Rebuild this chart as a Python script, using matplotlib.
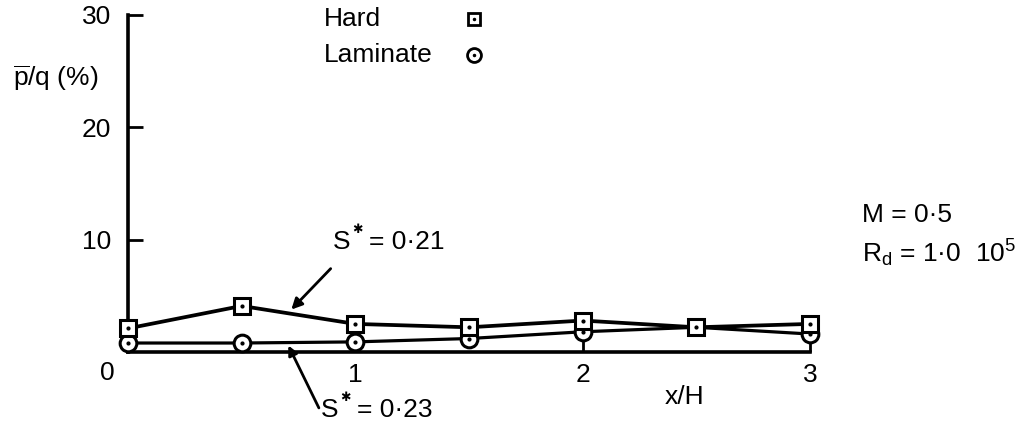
import matplotlib
matplotlib.use("Agg")
import matplotlib.pyplot as plt

# ── data ────────────────────────────────────────────────────────────
x_pos = [0, 0.5, 1.0, 1.5, 2.0, 2.5, 3.0]
hard = [2.1, 4.1, 2.5, 2.2, 2.8, 2.2, 2.5]
laminate = [0.8, 0.8, 0.9, 1.2, 1.8, 2.2, 1.6]
lam_marks = [0, 1, 2, 3, 4, 6]          # no circle drawn at x/H = 2.5
y_ticks = [10, 20, 30]
x_ticks = [1, 2, 3]

plt.rcParams["font.family"] = ["Liberation Sans", "DejaVu Sans"]
plt.rcParams["mathtext.fontset"] = "custom"
plt.rcParams["mathtext.rm"] = "Liberation Sans"
plt.rcParams["mathtext.it"] = "Liberation Sans"
FS = 19


def s_label(ax, x, y, value):
    # "S✱ = value" with a heavy raised star, as in the original figure
    t = ax.text(x, y, "S", fontsize=FS, ha="left", va="center")
    ax.annotate("✱", xy=(x, y), xytext=(14, 9), textcoords="offset points",
                fontsize=9, family="DejaVu Sans", fontweight="bold",
                ha="left", va="center", annotation_clip=False)
    ax.annotate("= " + value, xy=(x, y), xytext=(26, 0), textcoords="offset points",
                fontsize=FS, ha="left", va="center", annotation_clip=False)
    return t


fig = plt.figure(figsize=(10.25, 4.34), dpi=100)
ax = fig.add_axes([128 / 1025, 1 - 352 / 434, (810 - 128) / 1025, (352 - 15) / 434])
ax.set_xlim(0, 3)
ax.set_ylim(0, 30)

for s in ("top", "right"):
    ax.spines[s].set_visible(False)
for s in ("left", "bottom"):
    ax.spines[s].set_linewidth(2.6)

ax.set_xticks(x_ticks)
ax.set_xticklabels([str(t) for t in x_ticks], fontsize=FS)
ax.set_yticks(y_ticks)
ax.set_yticklabels([str(t) for t in y_ticks], fontsize=FS)
ax.tick_params(axis="both", direction="in", length=11, width=2)
ax.tick_params(axis="y", pad=12)
ax.tick_params(axis="x", pad=8)
ax.text(-0.09, -1.9, "0", fontsize=FS, ha="center", va="center")

# curves
ax.plot(x_pos, hard, color="black", lw=2.7, zorder=3, clip_on=False)
ax.plot(x_pos, laminate, color="black", lw=2.3, zorder=3, clip_on=False)
ax.plot(x_pos, hard, ls="none", marker="s", ms=11, mfc="white", mec="black",
        mew=2.2, zorder=5, clip_on=False)
ax.plot(x_pos, hard, ls="none", marker=".", ms=4, color="black", zorder=6, clip_on=False)
ax.plot(x_pos, laminate, ls="none", marker="o", ms=12, mfc="white", mec="black",
        mew=2.2, markevery=lam_marks, zorder=4, clip_on=False)
ax.plot(x_pos, laminate, ls="none", marker=".", ms=4, color="black",
        markevery=lam_marks, zorder=6, clip_on=False)

# legend (drawn by hand like the original)
ax.text(0.86, 29.6, "Hard", fontsize=FS, va="center", ha="left")
ax.text(0.86, 26.4, "Laminate", fontsize=FS, va="center", ha="left")
ax.plot([1.52], [29.6], marker="s", ms=9, mfc="white", mec="black", mew=2, clip_on=False)
ax.plot([1.52], [29.6], marker=".", ms=3, color="black", clip_on=False)
ax.plot([1.52], [26.4], marker="o", ms=10, mfc="white", mec="black", mew=2, clip_on=False)
ax.plot([1.52], [26.4], marker=".", ms=3, color="black", clip_on=False)

# axis labels
ax.text(-0.32, 24.4, r"$\overline{\mathrm{p}}$/q (%)", fontsize=FS, ha="center", va="center")
ax.text(2.45, -4.0, "x/H", fontsize=FS, ha="center", va="center")

# annotations
ax.annotate("", xy=(0.71, 3.6), xytext=(0.90, 7.6),
            arrowprops=dict(arrowstyle="-|>", lw=2, color="black", mutation_scale=16))
s_label(ax, 0.90, 9.8, "0·21")
ax.annotate("", xy=(0.70, 0.8), xytext=(0.845, -5.2), annotation_clip=False,
            arrowprops=dict(arrowstyle="-|>", lw=2, color="black", mutation_scale=14))
s_label(ax, 0.85, -5.2, "0·23")

ax.text(3.23, 12.2, "M = 0·5", fontsize=FS, ha="left", va="center")
ax.text(3.23, 8.8, r"R$_\mathrm{d}$ = 1·0  10$^{5}$", fontsize=FS, ha="left", va="center")

fig.savefig("out.png", dpi=100)
